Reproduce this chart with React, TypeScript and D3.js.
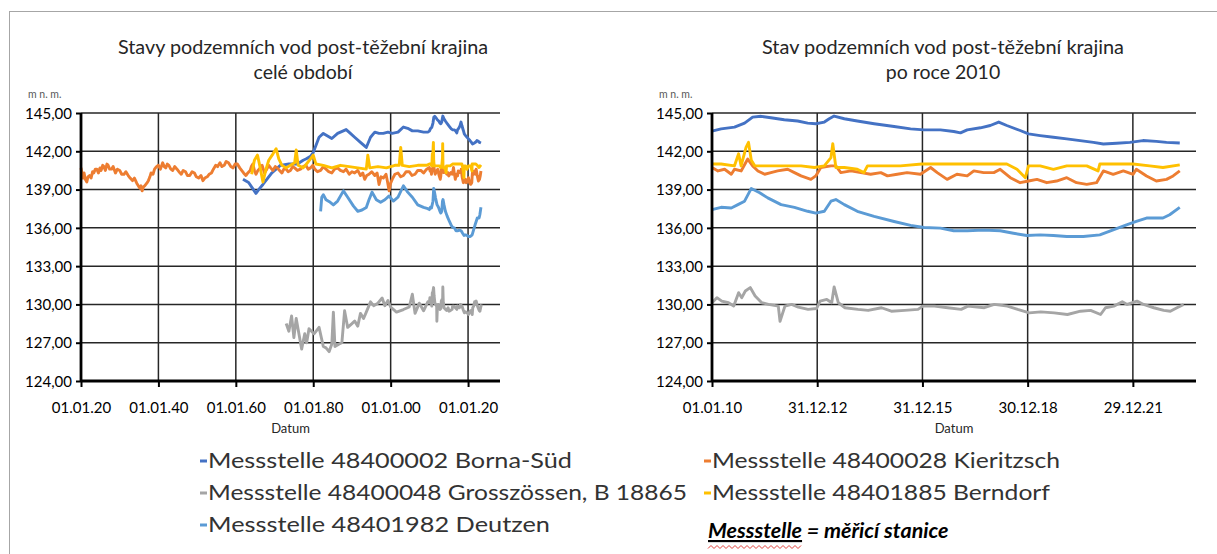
import { useEffect, useRef } from "react";
import * as d3 from "d3";

// [decimal year, m n. m.]
type Pt = [number, number];

const SERIES_NAMES = [
  "Messstelle 48400002 Borna-Süd",
  "Messstelle 48400028 Kieritzsch",
  "Messstelle 48400048 Grosszössen, B 18865",
  "Messstelle 48401885 Berndorf",
  "Messstelle 48401982 Deutzen",
];
const COLORS = ["#4472C4", "#ED7D31", "#A5A5A5", "#FFC000", "#5B9BD5"];

const Y_TICKS = [124, 127, 130, 133, 136, 139, 142, 145];

// before 2010 (only in the left chart)
const bornaOld: Pt[] = [
  [1961.85, 139.8], [1963.3, 139.55], [1965.2, 138.7], [1965.9, 139.0], [1967.0, 139.4],
  [1969.3, 140.3], [1971.5, 140.9], [1973.7, 141.0], [1975.9, 141.0], [1977.4, 141.3],
  [1978.1, 141.4], [1979.3, 141.6], [1980.0, 141.9], [1981.5, 143.1], [1982.6, 143.4],
  [1983.7, 143.2], [1984.8, 143.0], [1986.3, 143.4], [1988.5, 143.7], [1989.6, 143.4],
  [1990.7, 143.1], [1992.2, 142.7], [1993.7, 142.3], [1994.8, 143.1], [1995.9, 143.5],
  [1997.0, 143.4], [1998.1, 143.4], [1999.3, 143.5], [2000.4, 143.4], [2001.9, 143.5],
  [2003.3, 143.9], [2004.4, 143.8], [2005.6, 143.6], [2007.0, 143.6], [2008.5, 143.5],
  [2009.6, 143.5],
];

const kieritzschOld: Pt[] = [
  [1920.0, 140.7], [1920.3, 140.2], [1920.5, 139.9], [1920.8, 140.3], [1921.1, 139.8],
  [1921.5, 139.6], [1921.8, 140.0], [1922.2, 140.1], [1922.6, 139.9], [1923.0, 140.4],
  [1923.3, 140.3], [1923.7, 140.6], [1924.1, 140.6], [1924.5, 140.3], [1924.9, 140.7],
  [1925.2, 140.5], [1925.6, 140.9], [1925.9, 140.8], [1926.3, 140.5], [1926.7, 141.0],
  [1927.0, 140.9], [1927.4, 140.6], [1927.9, 140.6], [1928.3, 140.8], [1928.9, 140.3],
  [1929.4, 140.6], [1930.0, 140.5], [1930.5, 140.2], [1931.1, 140.2], [1931.6, 140.4],
  [1932.2, 140.1], [1932.7, 139.9], [1933.3, 139.7], [1933.8, 139.9], [1934.4, 139.5],
  [1934.8, 139.3], [1935.2, 139.1], [1935.5, 139.3], [1935.8, 138.9], [1936.1, 139.2],
  [1936.5, 139.3], [1937.0, 139.5], [1937.4, 139.7], [1937.8, 140.0], [1938.1, 140.3],
  [1938.6, 140.2], [1939.0, 140.6], [1939.5, 140.8], [1940.0, 140.9], [1940.5, 140.6],
  [1941.1, 141.1], [1941.5, 140.8], [1941.9, 140.7], [1942.3, 141.0], [1942.7, 140.9],
  [1943.2, 140.6], [1943.7, 140.5], [1944.2, 140.8], [1944.8, 140.6], [1945.3, 140.4],
  [1945.9, 140.2], [1946.4, 140.5], [1947.0, 140.4], [1947.5, 140.1], [1948.1, 140.1],
  [1948.7, 140.4], [1949.3, 140.3], [1949.8, 140.0], [1950.4, 139.9], [1951.0, 140.1],
  [1951.5, 139.7], [1952.0, 139.9], [1952.6, 140.0], [1953.1, 140.2], [1953.7, 140.3],
  [1954.2, 140.6], [1954.8, 140.9], [1955.3, 140.8], [1955.9, 141.1], [1956.4, 140.8],
  [1957.0, 140.9], [1957.5, 141.2], [1958.1, 141.1], [1958.7, 140.8], [1959.3, 140.7],
  [1959.8, 141.0], [1960.4, 141.0], [1961.0, 140.7], [1961.5, 140.5], [1962.0, 140.3],
  [1962.6, 140.1], [1963.1, 140.3], [1963.7, 140.5], [1964.0, 140.8], [1964.4, 141.0],
  [1964.8, 140.5], [1965.2, 140.2], [1965.7, 140.5], [1966.3, 140.7], [1966.8, 140.9],
  [1967.4, 140.3], [1968.0, 140.6], [1968.5, 140.9], [1969.0, 140.7], [1969.6, 140.5],
  [1970.2, 140.8], [1970.7, 140.7], [1971.3, 140.5], [1971.9, 140.3], [1972.4, 140.6],
  [1973.0, 140.6], [1973.5, 140.4], [1974.1, 140.5], [1974.7, 140.8], [1975.2, 140.7],
  [1975.9, 140.5], [1976.7, 140.6], [1977.4, 140.8], [1978.1, 140.9], [1978.7, 140.6],
  [1979.3, 140.7], [1979.9, 140.9], [1980.4, 140.6], [1981.1, 140.4], [1981.9, 140.5],
  [1982.6, 140.8], [1983.3, 140.6], [1984.0, 140.4], [1984.8, 140.3], [1985.5, 140.6],
  [1986.3, 140.7], [1987.0, 140.5], [1987.8, 140.4], [1988.5, 140.6], [1989.3, 140.2],
  [1990.0, 140.4], [1990.7, 140.3], [1991.5, 140.5], [1992.2, 140.1], [1992.8, 140.3],
  [1993.3, 139.8], [1993.8, 140.1], [1994.4, 140.2], [1995.1, 140.4], [1995.9, 140.1],
  [1996.5, 140.3], [1997.0, 139.4], [1997.5, 140.0], [1998.1, 139.9], [1998.8, 140.2],
  [1999.2, 139.6], [1999.6, 138.9], [2000.0, 139.5], [2000.4, 139.8], [2001.1, 140.2],
  [2001.9, 140.3], [2002.6, 140.0], [2003.3, 140.1], [2004.0, 140.4], [2004.8, 140.4],
  [2005.5, 140.1], [2006.3, 140.2], [2007.0, 140.5], [2007.8, 140.5], [2008.5, 140.3],
  [2009.3, 140.6],
];

const grosszoessenOld: Pt[] = [
  [1973.0, 128.5], [1973.7, 127.9], [1974.4, 129.1], [1975.0, 127.4], [1975.6, 128.9],
  [1976.3, 127.7], [1977.0, 126.5], [1977.8, 127.7], [1978.3, 127.0], [1978.9, 128.1],
  [1980.2, 127.7], [1981.5, 128.2], [1982.6, 126.7], [1983.3, 126.6], [1984.1, 126.3],
  [1984.8, 126.9], [1985.2, 129.4], [1985.6, 126.7], [1986.7, 126.9], [1987.4, 127.0],
  [1988.1, 129.5], [1988.9, 128.2], [1990.0, 128.5], [1990.7, 128.7], [1991.5, 128.3],
  [1992.2, 129.3], [1993.0, 128.9], [1993.7, 129.4], [1994.8, 130.2], [1995.6, 129.9],
  [1996.7, 130.1], [1997.8, 130.5], [1998.5, 129.9], [1999.3, 130.3], [2000.0, 129.8],
  [2001.5, 129.4], [2003.3, 129.6], [2004.8, 129.8], [2005.6, 130.8], [2006.3, 129.3],
  [2007.4, 130.1], [2008.5, 129.5], [2009.6, 130.2],
];

const berndorfOld: Pt[] = [
  [1964.1, 140.2], [1964.8, 141.3], [1965.6, 141.7], [1966.3, 140.7], [1967.0, 139.6],
  [1967.8, 140.6], [1968.5, 141.3], [1969.6, 141.8], [1970.4, 142.2], [1971.1, 141.4],
  [1971.9, 140.9], [1973.0, 140.7], [1974.1, 140.9], [1975.2, 141.1], [1975.6, 142.1],
  [1976.1, 140.9], [1977.4, 140.7], [1978.5, 141.1], [1979.3, 141.4], [1980.0, 141.7],
  [1980.7, 141.0], [1982.6, 140.9], [1984.8, 140.7], [1987.0, 140.9], [1989.3, 140.8],
  [1991.5, 140.7], [1993.7, 140.6], [1994.1, 141.7], [1994.6, 140.7], [1996.7, 140.8],
  [1998.9, 140.7], [2001.1, 140.9], [2002.2, 140.9], [2002.6, 142.3], [2003.0, 140.9],
  [2004.8, 140.8], [2007.0, 140.9], [2009.3, 140.9],
];

const deutzenOld: Pt[] = [
  [1981.9, 137.3], [1982.2, 138.4], [1982.6, 138.6], [1983.3, 138.2], [1984.4, 138.0],
  [1985.2, 137.8], [1986.3, 138.1], [1987.8, 138.9], [1988.9, 138.4], [1990.4, 137.7],
  [1991.5, 137.3], [1992.6, 137.4], [1993.7, 137.6], [1994.4, 138.2], [1995.2, 138.8],
  [1996.3, 138.2], [1997.4, 138.0], [1998.5, 138.2], [1999.6, 138.5], [2000.7, 138.1],
  [2001.9, 138.4], [2003.3, 139.3], [2004.4, 138.8], [2005.6, 138.4], [2007.0, 137.8],
  [2008.5, 137.6], [2009.6, 137.5],
];

// from 2010 (both charts)
const bornaNew: Pt[] = [
  [2010.0, 143.58], [2010.26, 143.76], [2010.64, 143.89], [2010.93, 144.21], [2011.16, 144.68],
  [2011.4, 144.74], [2011.68, 144.63], [2012.06, 144.47], [2012.44, 144.37], [2012.73, 144.21],
  [2012.96, 144.16], [2013.2, 144.29], [2013.34, 144.55], [2013.48, 144.76], [2013.77, 144.55],
  [2014.14, 144.37], [2014.62, 144.16], [2015.19, 143.94], [2015.66, 143.76], [2016.04, 143.68],
  [2016.51, 143.68], [2016.89, 143.55], [2017.08, 143.44], [2017.27, 143.68], [2017.65, 143.84],
  [2017.93, 144.02], [2018.17, 144.29], [2018.4, 144.02], [2018.78, 143.63], [2019.02, 143.36],
  [2019.35, 143.23], [2019.73, 143.1], [2020.11, 142.97], [2020.49, 142.84], [2020.87, 142.7],
  [2021.15, 142.57], [2021.53, 142.63], [2021.91, 142.7], [2022.28, 142.84], [2022.66, 142.78],
  [2022.95, 142.7], [2023.33, 142.65],
];

const kieritzschNew: Pt[] = [
  [2010.0, 140.73], [2010.17, 140.46], [2010.36, 140.59], [2010.55, 140.2], [2010.64, 140.59],
  [2010.83, 140.46], [2011.02, 141.39], [2011.16, 140.86], [2011.31, 140.46], [2011.5, 140.2],
  [2011.68, 140.33], [2011.87, 140.46], [2012.16, 140.59], [2012.35, 140.33], [2012.54, 140.07],
  [2012.82, 139.8], [2012.96, 140.07], [2013.1, 140.73], [2013.39, 140.86], [2013.53, 140.86],
  [2013.67, 140.33], [2013.96, 140.46], [2014.24, 140.33], [2014.52, 140.2], [2014.81, 140.33],
  [2015.0, 140.07], [2015.28, 140.2], [2015.56, 140.33], [2015.94, 140.2], [2016.23, 140.73],
  [2016.42, 140.33], [2016.7, 139.8], [2016.98, 140.2], [2017.27, 140.07], [2017.46, 140.46],
  [2017.74, 140.33], [2018.03, 140.33], [2018.21, 140.59], [2018.5, 139.93], [2018.78, 139.54],
  [2019.02, 139.67], [2019.26, 139.8], [2019.54, 139.54], [2019.82, 139.67], [2020.11, 139.93],
  [2020.39, 139.54], [2020.68, 139.41], [2020.96, 139.54], [2021.15, 140.46], [2021.43, 140.2],
  [2021.72, 140.46], [2022.0, 140.2], [2022.09, 140.59], [2022.38, 140.07], [2022.66, 139.67],
  [2022.95, 139.8], [2023.14, 140.07], [2023.33, 140.46],
];

const grosszoessenNew: Pt[] = [
  [2010.0, 130.13], [2010.14, 130.53], [2010.28, 130.26], [2010.47, 130.13], [2010.62, 129.87],
  [2010.76, 130.92], [2010.85, 130.53], [2010.95, 131.05], [2011.09, 131.32], [2011.23, 130.66],
  [2011.42, 130.13], [2011.61, 130.0], [2011.89, 129.87], [2011.94, 128.68], [2012.08, 129.87],
  [2012.27, 130.0], [2012.46, 129.79], [2012.74, 129.61], [2012.98, 129.68], [2013.08, 130.26],
  [2013.27, 130.39], [2013.41, 130.13], [2013.48, 131.37], [2013.6, 130.13], [2013.79, 129.74],
  [2014.16, 129.61], [2014.45, 129.53], [2014.83, 129.74], [2015.11, 129.47], [2015.49, 129.53],
  [2015.87, 129.61], [2016.01, 129.87], [2016.34, 129.87], [2016.72, 129.74], [2017.1, 129.61],
  [2017.29, 129.87], [2017.76, 129.74], [2018.04, 130.0], [2018.42, 129.87], [2018.71, 129.61],
  [2019.04, 129.34], [2019.37, 129.42], [2019.75, 129.34], [2020.13, 129.21], [2020.5, 129.47],
  [2020.79, 129.53], [2021.07, 129.21], [2021.21, 129.74], [2021.45, 129.87], [2021.69, 130.21],
  [2021.83, 130.0], [2022.11, 130.26], [2022.3, 130.0], [2022.59, 129.74], [2022.87, 129.53],
  [2023.06, 129.47], [2023.25, 129.74], [2023.44, 130.0],
];

const berndorfNew: Pt[] = [
  [2010.0, 141.0], [2010.26, 141.0], [2010.64, 140.86], [2010.76, 141.8], [2010.83, 140.86],
  [2010.97, 142.3], [2011.04, 142.7], [2011.12, 141.3], [2011.22, 140.86], [2011.6, 140.86],
  [2012.06, 140.86], [2012.54, 140.86], [2012.92, 140.73], [2013.2, 140.86], [2013.39, 141.5],
  [2013.44, 142.6], [2013.53, 140.73], [2013.77, 140.73], [2014.14, 140.59], [2014.33, 140.33],
  [2014.43, 140.86], [2015.0, 140.86], [2015.37, 140.86], [2015.98, 141.0], [2016.5, 141.0],
  [2017.27, 141.0], [2017.84, 141.0], [2018.4, 141.0], [2018.69, 140.59], [2018.93, 139.93],
  [2019.02, 140.86], [2019.35, 140.86], [2019.73, 140.59], [2020.11, 140.86], [2020.68, 140.86],
  [2021.0, 140.46], [2021.05, 141.0], [2021.62, 141.0], [2022.0, 141.0], [2022.47, 140.86],
  [2022.85, 140.73], [2023.33, 140.94],
];

const deutzenNew: Pt[] = [
  [2010.0, 137.43], [2010.26, 137.61], [2010.55, 137.56], [2010.74, 137.82], [2010.93, 138.09],
  [2011.12, 139.09], [2011.36, 138.75], [2011.59, 138.35], [2011.97, 137.82], [2012.35, 137.61],
  [2012.73, 137.3], [2012.96, 137.16], [2013.2, 137.3], [2013.39, 138.09], [2013.53, 138.22],
  [2013.77, 137.82], [2014.14, 137.3], [2014.62, 136.9], [2015.19, 136.5], [2015.66, 136.19],
  [2016.04, 136.03], [2016.51, 135.98], [2016.89, 135.77], [2017.27, 135.77], [2017.74, 135.82],
  [2018.21, 135.77], [2018.59, 135.58], [2018.97, 135.4], [2019.35, 135.45], [2019.73, 135.4],
  [2020.11, 135.32], [2020.58, 135.32], [2021.05, 135.45], [2021.43, 135.84], [2021.81, 136.24],
  [2022.09, 136.5], [2022.38, 136.77], [2022.85, 136.77], [2023.04, 137.03], [2023.33, 137.61],
];

const OLD = [bornaOld, kieritzschOld, grosszoessenOld, berndorfOld, deutzenOld];
const NEW = [bornaNew, kieritzschNew, grosszoessenNew, berndorfNew, deutzenNew];

const toDate = (y: number) => {
  const yr = Math.floor(y);
  return new Date(yr, 0, 1 + Math.round((y - yr) * 365));
};

const fmtDate = d3.timeFormat("%d.%m.%y");
const fmtNum = (v: number) => v.toFixed(2).replace(".", ",");

type ChartCfg = {
  left: number;
  right: number;
  start: Date;
  end: Date;
  ticks: Date[];
  series: Pt[][];
  title: string[];
  titleX: number;
  titleLen: number;
};

const TOP = 113;
const BOTTOM = 381;
const FONT = "Lato, 'Open Sans', sans-serif";

function drawChart(svg: d3.Selection<SVGSVGElement, unknown, null, undefined>, c: ChartCfg) {
  const x = d3.scaleTime().domain([c.start, c.end]).range([c.left, c.right]);
  const y = d3.scaleLinear().domain([124, 145]).range([BOTTOM, TOP]);
  const g = svg.append("g");

  // title
  c.title.forEach((t, i) => {
    const tt = g
      .append("text")
      .attr("x", c.titleX)
      .attr("y", 54 + i * 25)
      .attr("text-anchor", "middle")
      .attr("font-family", FONT)
      .attr("font-size", 19.5)
      .attr("fill", "#262626")
      .text(t);
    if (i === 0) tt.attr("textLength", c.titleLen).attr("lengthAdjust", "spacingAndGlyphs");
  });

  g.append("text")
    .attr("x", c.left - 53)
    .attr("y", 98)
    .attr("font-family", FONT)
    .attr("font-size", 10.5)
    .attr("fill", "#595959")
    .text("m n. m.");

  // grid
  g.append("g")
    .selectAll("line")
    .data(Y_TICKS.slice(1))
    .join("line")
    .attr("x1", c.left)
    .attr("x2", c.right)
    .attr("y1", (d) => y(d))
    .attr("y2", (d) => y(d))
    .attr("stroke", "#262626")
    .attr("stroke-width", 1.5);
  g.append("g")
    .selectAll("line")
    .data(c.ticks.slice(1))
    .join("line")
    .attr("x1", (d) => x(d))
    .attr("x2", (d) => x(d))
    .attr("y1", TOP)
    .attr("y2", BOTTOM)
    .attr("stroke", "#262626")
    .attr("stroke-width", 1.5);

  // series
  const line = d3
    .line<Pt>()
    .x((d) => x(toDate(d[0])))
    .y((d) => y(d[1]));
  c.series.forEach((s, i) => {
    g.append("path")
      .attr("d", line(s))
      .attr("fill", "none")
      .attr("stroke", COLORS[i])
      .attr("stroke-width", 2.9)
      .attr("stroke-linejoin", "round");
  });

  // axes
  const ya = d3.axisLeft(y).tickValues(Y_TICKS).tickSize(5).tickFormat((d) => fmtNum(+d));
  const yg = g.append("g").attr("transform", `translate(${c.left},0)`).call(ya);
  const xa = d3.axisBottom(x).tickValues(c.ticks).tickSize(6).tickFormat((d) => fmtDate(d as Date));
  const xg = g.append("g").attr("transform", `translate(0,${BOTTOM})`).call(xa);
  [yg, xg].forEach((a) => {
    a.select(".domain").attr("stroke", "#000").attr("stroke-width", 2.8);
    a.selectAll(".tick line").attr("stroke", "#000").attr("stroke-width", 2);
    a.selectAll(".tick text")
      .attr("font-family", FONT)
      .attr("font-size", 15)
      .attr("fill", "#000");
  });
  xg.select(".domain").attr("d", `M${c.left},0H${c.right}`);
  yg.select(".domain").attr("d", `M0,${BOTTOM}V${TOP}`);
  yg.selectAll(".tick text").attr("x", -9).attr("dy", "0.35em");
  xg.selectAll(".tick text").attr("y", 21).attr("dy", "0.75em");

  g.append("text")
    .attr("x", (c.left + c.right) / 2)
    .attr("y", 433)
    .attr("text-anchor", "middle")
    .attr("font-family", FONT)
    .attr("font-size", 13)
    .attr("fill", "#262626")
    .text("Datum");
}

export default function App() {
  const ref = useRef<SVGSVGElement>(null);

  useEffect(() => {
    if (!ref.current) return;
    const svg = d3.select(ref.current);
    svg.selectAll("*").remove();

    svg
      .append("rect")
      .attr("x", 9.5)
      .attr("y", 11.5)
      .attr("width", 1400)
      .attr("height", 700)
      .attr("fill", "#fff")
      .attr("stroke", "#a6a6a6")
      .attr("stroke-width", 1);

    const leftTicks = [1920, 1940, 1960, 1980, 2000, 2020].map((yr) => new Date(yr, 0, 1));
    drawChart(svg, {
      left: 81,
      right: 500,
      start: new Date(1920, 0, 1),
      end: new Date(2028, 3, 1),
      ticks: leftTicks,
      series: OLD.map((s, i) => s.concat(NEW[i])),
      title: ["Stavy podzemních vod post-těžební krajina", "celé období"],
      titleX: 303,
      titleLen: 370,
    });

    const start = new Date(2010, 0, 1);
    const rightTicks = d3.range(5).map((k) => d3.timeDay.offset(start, 1095 * k));
    drawChart(svg, {
      left: 712,
      right: 1196,
      start,
      end: d3.timeDay.offset(start, 5037),
      ticks: rightTicks,
      series: NEW,
      title: ["Stav podzemních vod post-těžební krajina", "po roce 2010"],
      titleX: 943,
      titleLen: 362,
    });

    // legend
    const legend = svg.append("g").attr("font-family", FONT).attr("font-size", 20.5).attr("fill", "#333");
    const cols = [200, 704];
    const rows = [468, 500, 532];
    const widths = [364, 348, 479, 338, 342];
    SERIES_NAMES.forEach((name, k) => {
      const cx = cols[k % 2];
      const cy = rows[Math.floor(k / 2)];
      legend
        .append("line")
        .attr("x1", cx)
        .attr("x2", cx + 7)
        .attr("y1", cy - 7)
        .attr("y2", cy - 7)
        .attr("stroke", COLORS[k])
        .attr("stroke-width", 3);
      legend
        .append("text")
        .attr("x", cx + 8)
        .attr("y", cy)
        .attr("textLength", widths[k])
        .attr("lengthAdjust", "spacingAndGlyphs")
        .text(name);
    });

    const note = legend
      .append("text")
      .attr("x", 708)
      .attr("y", 538)
      .attr("font-weight", "bold")
      .attr("font-style", "italic")
      .attr("font-size", 21.5)
      .attr("fill", "#000");
    note.append("tspan").attr("text-decoration", "underline").text("Messstelle");
    note.append("tspan").text(" = měřicí stanice");
    const w = (note.select("tspan").node() as SVGTSpanElement).getComputedTextLength();
    const zig = d3.range(0, Math.floor(w / 3) + 1).map((i) => [708 + i * 3, 547 + (i % 2 ? -1.5 : 1.5)] as [number, number]);
    legend
      .append("path")
      .attr("d", d3.line()(zig))
      .attr("fill", "none")
      .attr("stroke", "#e0403a")
      .attr("stroke-width", 1);
  }, []);

  return (
    <svg
      ref={ref}
      width={1217}
      height={554}
      style={{ position: "absolute", left: 0, top: 0, display: "block" }}
    />
  );
}
